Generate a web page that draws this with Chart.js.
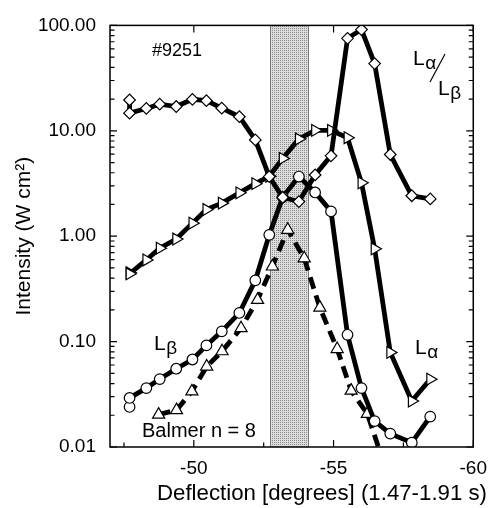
<!DOCTYPE html>
<html><head><meta charset="utf-8">
<script src="https://cdn.jsdelivr.net/npm/chart.js@4.4.1/dist/chart.umd.min.js"></script>
<style>html,body{margin:0;padding:0;background:#fff}#wrap{width:497px;height:508px;position:relative}</style>
</head><body><div id="wrap"><canvas id="c"></canvas></div>
<script>
// ---- data ----
const deflection = [-47.7, -47.7, -48.3, -48.78, -49.37, -49.95, -50.45, -51.0, -51.63, -52.2, -52.7, -53.18, -53.76, -54.34, -54.91, -55.5, -56.0, -56.47, -57.03, -57.8, -58.46];
const ratioLaLb = [19.6, 14.7, 16.3, 17.9, 17.0, 19.9, 19.3, 16.4, 13.6, 8.2, 3.68, 2.33, 2.13, 3.81, 5.79, 75.4, 91.3, 43.4, 5.96, 2.42, 2.26];
const lymanAlpha = [0.45, 0.44, 0.595, 0.77, 0.94, 1.33, 1.79, 2.06, 2.58, 3.15, 3.7, 5.47, 8.36, 10.1, 10.1, 8.6, 3.21, 0.76, 0.079, 0.0273, 0.044];
const lymanBeta = [0.024, 0.0292, 0.0362, 0.0441, 0.0553, 0.0676, 0.092, 0.125, 0.187, 0.381, 1.03, 2.35, 3.68, 2.6, 1.72, 0.116, 0.0362, 0.0176, 0.0134, 0.011, 0.0194];
const balmerDeflection = [-48.74, -49.38, -49.93, -50.46, -51.01, -51.69, -52.28, -52.81, -53.36, -53.95, -54.51, -55.13, -55.63, -56.21, -56.8];
const balmer8 = [0.0203, 0.0224, 0.0337, 0.058, 0.081, 0.134, 0.249, 0.516, 1.15, 0.617, 0.21, 0.085, 0.0343, 0.0206, 0.007];
const xTicks = [-50, -55, -60];
const xMinorTicks = [-47.5, -52.5, -57.5];
const yTicks = [0.01, 0.1, 1, 10, 100];
const shadedBand = [-52.73, -54.1];
const xRange = [-60, -47];
const yRange = [0.01, 100];
const xTitle = 'Deflection [degrees] (1.47-1.91 s)';
const yTitle = 'Intensity (W cm²)';

const FONT = "'Liberation Sans', Arial, Helvetica, sans-serif";

function stipple() {
  const c = document.createElement('canvas');
  c.width = 2; c.height = 2;
  const g = c.getContext('2d');
  g.fillStyle = '#dedede'; g.fillRect(0, 0, 2, 2);
  g.fillStyle = '#8a8a8a'; g.fillRect(0, 0, 1, 1);
  return c;
}

const bandPlugin = {
  id: 'band',
  beforeDatasetsDraw(chart) {
    const {ctx, chartArea: a, scales: {x}} = chart;
    const x1 = x.getPixelForValue(shadedBand[0]);
    const x2 = x.getPixelForValue(shadedBand[1]);
    ctx.save();
    ctx.fillStyle = ctx.createPattern(stipple(), 'repeat');
    ctx.fillRect(Math.min(x1, x2), a.top, Math.abs(x2 - x1), a.bottom - a.top);
    ctx.strokeStyle = '#777'; ctx.lineWidth = 1;
    ctx.beginPath();
    ctx.moveTo(Math.round(x1) + 0.5, a.top); ctx.lineTo(Math.round(x1) + 0.5, a.bottom);
    ctx.moveTo(Math.round(x2) + 0.5, a.top); ctx.lineTo(Math.round(x2) + 0.5, a.bottom);
    ctx.stroke();
    ctx.restore();
  }
};

function drawLsub(ctx, x, base, sub, size) {
  ctx.font = size + 'px ' + FONT;
  ctx.fillText('L', x, base);
  const w = ctx.measureText('L').width;
  ctx.font = Math.round(size * 0.9) + 'px ' + FONT;
  ctx.fillText(sub, x + w + 0.5, base + size * 0.2);
}

const framePlugin = {
  id: 'frame',
  afterDraw(chart) {
    const {ctx, chartArea: a, scales: {x, y}} = chart;
    ctx.save();
    ctx.strokeStyle = '#000';
    ctx.lineWidth = 1.5;
    ctx.strokeRect(a.left, a.top, a.right - a.left, a.bottom - a.top);
    ctx.lineWidth = 1.2;
    ctx.beginPath();
    for (let d = 0; d < yTicks.length; d++) {
      const dec = yTicks[d];
      const py = y.getPixelForValue(dec);
      ctx.moveTo(a.left, py); ctx.lineTo(a.left + 7, py);
      ctx.moveTo(a.right, py); ctx.lineTo(a.right - 7, py);
      if (d < yTicks.length - 1) {
        for (let m = 2; m <= 9; m++) {
          const pm = y.getPixelForValue(dec * m);
          ctx.moveTo(a.left, pm); ctx.lineTo(a.left + 4.5, pm);
          ctx.moveTo(a.right, pm); ctx.lineTo(a.right - 4.5, pm);
        }
      }
    }
    xTicks.forEach(v => {
      const px = x.getPixelForValue(v);
      ctx.moveTo(px, a.bottom); ctx.lineTo(px, a.bottom - 7);
      ctx.moveTo(px, a.top); ctx.lineTo(px, a.top + 7);
    });
    xMinorTicks.forEach(v => {
      const px = x.getPixelForValue(v);
      ctx.moveTo(px, a.bottom); ctx.lineTo(px, a.bottom - 4.5);
    });
    ctx.stroke();

    ctx.fillStyle = '#000';
    ctx.textBaseline = 'alphabetic';
    ctx.textAlign = 'left';
    // x axis title
    ctx.font = '22px ' + FONT;
    const tw = ctx.measureText(xTitle).width;
    ctx.save();
    ctx.translate(157, 500);
    ctx.scale(330 / tw, 1);
    ctx.fillText(xTitle, 0, 0);
    ctx.restore();

    // annotations
    ctx.font = '18px ' + FONT;
    ctx.fillText('#9251', 152, 56);
    drawLsub(ctx, 413, 65, 'α', 21);
    ctx.lineWidth = 1.2;
    ctx.beginPath(); ctx.moveTo(445, 54); ctx.lineTo(430, 82); ctx.stroke();
    drawLsub(ctx, 438, 95, 'β', 21);
    drawLsub(ctx, 415, 354, 'α', 21);
    drawLsub(ctx, 154, 350, 'β', 21);
    ctx.font = '20px ' + FONT;
    ctx.fillText('Balmer n = 8', 142, 437);
    ctx.restore();
  }
};

const pts = (xs, ys) => xs.map((v, i) => ({x: v, y: ys[i]}));
const common = {borderColor: '#000', borderWidth: 4.8, pointBackgroundColor: '#fff', pointBorderColor: '#000', pointBorderWidth: 1.2, tension: 0, clip: 0, fill: false};

new Chart(document.getElementById('c'), {
  type: 'line',
  data: {
    datasets: [
      Object.assign({label: 'Lα/Lβ', data: pts(deflection, ratioLaLb), pointStyle: 'rectRot', pointRadius: 5.8}, common),
      Object.assign({label: 'Lα', data: pts(deflection, lymanAlpha), pointStyle: 'triangle', pointRotation: 90, pointRadius: 6.8}, common),
      Object.assign({label: 'Lβ', data: pts(deflection, lymanBeta), pointStyle: 'circle', pointRadius: 5.3}, common),
      Object.assign({label: 'Balmer n = 8', data: pts(balmerDeflection, balmer8), pointStyle: 'triangle', pointRadius: 7, borderDash: [12, 7]}, common)
    ]
  },
  options: {
    responsive: true, maintainAspectRatio: false, animation: false, devicePixelRatio: 1,
    layout: {padding: {top: 14, right: 20, left: 0, bottom: 0}},
    plugins: {legend: {display: false}, tooltip: {enabled: false}},
    scales: {
      x: {
        type: 'linear', reverse: true, min: xRange[0], max: xRange[1],
        afterBuildTicks: s => { s.ticks = xTicks.map(v => ({value: v})); },
        afterFit: s => { s.height = 61; },
        grid: {display: false, drawTicks: false}, border: {display: false},
        ticks: {color: '#000', font: {family: FONT, size: 19}, padding: 10, maxRotation: 0, autoSkip: false, callback: v => String(v)},
        title: {display: false, text: xTitle}
      },
      y: {
        type: 'logarithmic', min: yRange[0], max: yRange[1],
        afterBuildTicks: s => { s.ticks = yTicks.map(v => ({value: v})); },
        afterFit: s => { s.width = 110; },
        grid: {display: false, drawTicks: false}, border: {display: false},
        ticks: {color: '#000', font: {family: FONT, size: 19}, padding: 14, autoSkip: false, callback: v => Number(v).toFixed(2)},
        title: {display: true, text: yTitle, color: '#000', font: {family: FONT, size: 21}, padding: {top: 12, bottom: 0}}
      }
    }
  },
  plugins: [bandPlugin, framePlugin]
});
</script></body></html>
